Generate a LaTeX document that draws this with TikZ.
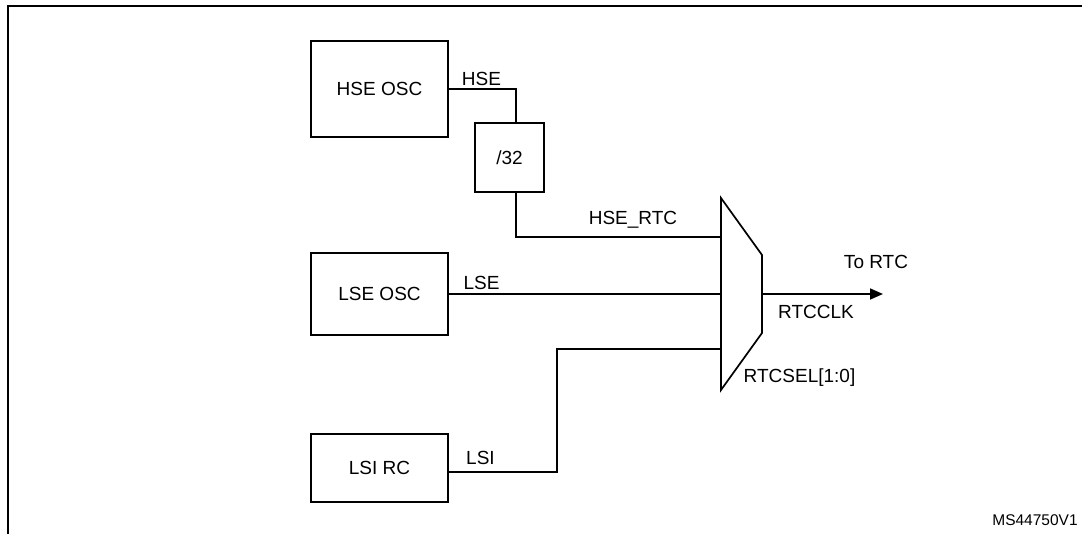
\documentclass[tikz,border=0pt]{standalone}
\usepackage{fontspec}
\setmainfont{Liberation Sans}
\usetikzlibrary{arrows.meta, positioning, calc}

\begin{document}
\begin{tikzpicture}[
    x=1pt, y=-1pt,
    block/.style={rectangle, draw=black, line width=1.7pt, minimum width=137pt, align=center, font=\fontsize{19}{22}\selectfont, inner sep=0pt},
    divider/.style={rectangle, draw=black, line width=1.7pt, minimum width=69pt, minimum height=69pt, align=center, font=\fontsize{19}{22}\selectfont, inner sep=0pt},
    wire/.style={line width=1.7pt, black},
    arrow/.style={-{Stealth[length=13pt, width=11pt, inset=0pt]}, line width=1.7pt, black},
    lbl/.style={font=\fontsize{19}{22}\selectfont, inner sep=0pt},
]
\useasboundingbox (0,0) rectangle (1082,534);

% frame
\draw[line width=2.6pt] (8,534) -- (8,6) -- (1082,6);

% sources
\node[block, minimum height=96pt] (hse) at (379.5, 89) {HSE OSC};
\node[divider] (div) at (509.5, 157.5) {/32};
\node[block, minimum height=82pt] (lse) at (379.5, 294) {LSE OSC};
\node[block, minimum height=68pt] (lsi) at (379.5, 468) {LSI RC};

% multiplexer
\coordinate (muxtl) at (721, 198);
\coordinate (muxtr) at (762, 255);
\coordinate (muxbr) at (762, 333);
\coordinate (muxbl) at (721, 390);
\draw[wire] (muxtl) -- (muxtr) -- (muxbr) -- (muxbl) -- cycle;
\coordinate (in1) at (721, 237);
\coordinate (in2) at (721, 294);
\coordinate (in3) at (721, 349);
\coordinate (lsibend) at (557, 349);
\coordinate (muxout) at (762, 294);
\coordinate (rtc) at (883, 294);

\draw[wire] (hse.east) -| ([xshift=6.5pt]div.north);
\draw[wire] ([xshift=6.5pt]div.south) |- (in1);
\draw[wire] (lse.east) -- (in2);
\draw[wire] ([yshift=-4pt]lsi.east) -| (lsibend) -- (in3);
\draw[arrow] (muxout) -- (rtc);

% labels
\node[lbl] (hselbl) at (481.5, 79) {HSE};
\node[lbl] (hsertclbl) at (633, 220) {HSE\_RTC};
\node[lbl] (lselbl) at (481.5, 283) {LSE};
\node[lbl] (lsilbl) at (480.5, 458) {LSI};
\node[lbl] (torlbl) at (876, 262) {To RTC};
\node[lbl] (clklbl) at (816, 312) {RTCCLK};
\node[lbl] (sellbl) at (799.5, 378) {RTCSEL[1:0]};
\node[lbl, font=\fontsize{15.5}{18}\selectfont] (ref) at (1035, 520) {MS44750V1};

\end{tikzpicture}
\end{document}
